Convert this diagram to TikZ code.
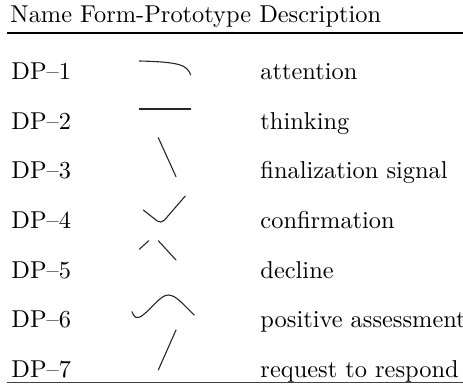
\documentclass[tikz,border=0pt]{standalone}
\begin{document}
\begin{tikzpicture}[x=0.41pt,y=-0.41pt,
  glyph/.style={line width=0.45pt, line cap=round, line join=round, black!85},
  lbl/.style={anchor=base west, inner sep=0pt}]
\useasboundingbox (0,0) rectangle (463,384);
\clip (0,0) rectangle (463,384);
% header
\node[lbl] (hdr) at (10,22.7) {Name Form-Prototype Description};
\draw[line width=0.8pt] (7,33) -- (463,33);
% rows
\foreach \i/\d/\y in {1/attention/80,2/thinking/129.5,3/finalization signal/179,4/confirmation/228.5,5/decline/278,6/positive assessment/327.5,7/request to respond/377}{
  \node[lbl] (name\i) at (11,\y) {DP--\i};
  \node[lbl] (desc\i) at (260,\y) {\d};
}
% glyphs
\draw[glyph] (139.3,61) .. controls (180,62) and (187,65) .. (190.7,75);
\draw[glyph] (139.3,109) -- (190.7,109);
\draw[glyph] (158.3,137.7) -- (176,176.7);
\draw[glyph, rounded corners=2pt] (143.3,210) -- (161,224) -- (185.3,196);
\draw[glyph] (139.3,249.3) -- (148.7,240.7);
\draw[glyph] (158.3,240.7) -- (176,260);
\draw[glyph] (132,311.7) .. controls (134,318) and (137,318.5) .. (141,316.5) .. controls (152,309) and (160,295) .. (168.3,295) .. controls (177,295) and (186,308) .. (194.3,315);
\draw[glyph] (176,330) -- (158.3,370);
% bottom rule
\draw[line width=0.5pt, black!75] (7,382.8) -- (463,382.8);
\end{tikzpicture}
\end{document}
